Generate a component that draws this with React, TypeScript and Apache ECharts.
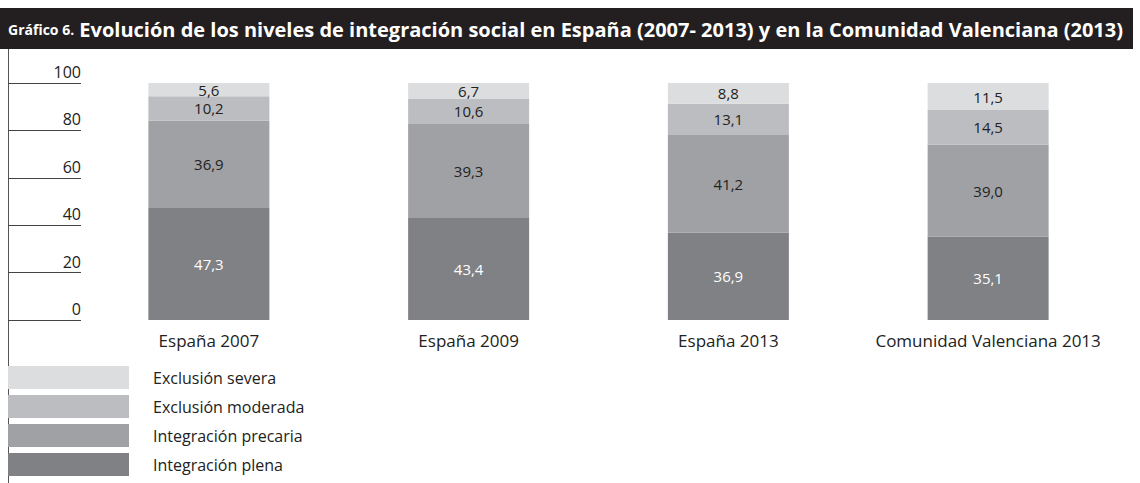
import React, { useEffect, useRef } from "react";
import * as echarts from "echarts";

const categories = ["España 2007", "España 2009", "España 2013", "Comunidad Valenciana 2013"];
const plena = [47.3, 43.4, 36.9, 35.1];
const precaria = [36.9, 39.3, 41.2, 39.0];
const moderada = [10.2, 10.6, 13.1, 14.5];
const severa = [5.6, 6.7, 8.8, 11.5];
const seriesNames = ["Integración plena", "Integración precaria", "Exclusión moderada", "Exclusión severa"];
const legendOrder = ["Exclusión severa", "Exclusión moderada", "Integración precaria", "Integración plena"];
const colors = ["#808185", "#a0a1a5", "#bcbdc0", "#dcdddf"];
const titleLead = "Gráfico 6.";
const titleRest = " Evolución de los niveles de integración social en España (2007- 2013) y en la Comunidad Valenciana (2013)";

const FONT = "'Open Sans', 'Noto Sans', sans-serif";

export default function App() {
  const ref = useRef<HTMLDivElement>(null);
  useEffect(() => {
    if (!ref.current) return;
    const chart = echarts.init(ref.current, undefined, { renderer: "svg" });
    const datasets = [plena, precaria, moderada, severa];
    chart.setOption({
      animation: false,
      textStyle: { fontFamily: FONT },
      grid: [
        { left: 79, right: 22, top: 83, height: 237 },
        { left: 8, width: 73, top: 83, height: 237 },
      ],
      xAxis: [
        {
          type: "category",
          gridIndex: 0,
          data: categories,
          axisLine: { show: false },
          axisTick: { show: false },
          axisLabel: { color: "#222", fontSize: 17, margin: 12, interval: 0, fontFamily: FONT },
        },
        { type: "value", gridIndex: 1, show: false },
      ],
      yAxis: [
        { type: "value", gridIndex: 0, min: 0, max: 100, show: false },
        {
          type: "value",
          gridIndex: 1,
          min: 0,
          max: 100,
          interval: 20,
          position: "right",
          axisLine: { show: false },
          axisTick: { show: false },
          splitLine: { show: true, lineStyle: { color: "#444", width: 1 } },
          axisLabel: {
            inside: true,
            color: "#222",
            fontSize: 16,
            verticalAlign: "bottom",
            padding: [0, 0, 3, 0],
            margin: 0,
            fontFamily: FONT,
          },
        },
      ],
      legend: {
        orient: "vertical",
        left: 8,
        top: 366,
        padding: 0,
        itemWidth: 121,
        itemHeight: 23,
        itemGap: 6,
        icon: "rect",
        data: legendOrder,
        textStyle: { color: "#222", fontSize: 16, padding: [0, 0, 0, 19], fontFamily: FONT },
        selectedMode: false,
      },
      graphic: [
        { type: "rect", shape: { x: 0, y: 8, width: 1133, height: 41 }, style: { fill: "#231f20" } },
        {
          type: "text",
          x: 8,
          y: 29,
          style: {
            text: `{a|${titleLead}}{b|${titleRest}}`,
            verticalAlign: "middle",
            rich: {
              a: { fill: "#fff", fontSize: 14, fontWeight: "bold", fontFamily: FONT },
              b: { fill: "#fff", fontSize: 20, fontWeight: "bold", fontFamily: FONT },
            },
          },
        },
        { type: "line", shape: { x1: 8.5, y1: 49, x2: 8.5, y2: 483 }, style: { stroke: "#555", lineWidth: 1 } },
      ],
      series: datasets.map((d, i) => ({
        name: seriesNames[i],
        type: "bar",
        stack: "total",
        xAxisIndex: 0,
        yAxisIndex: 0,
        barWidth: 121,
        data: d,
        itemStyle: { color: colors[i] },
        label: {
          show: true,
          position: "inside",
          color: i === 0 ? "#fff" : "#222",
          fontSize: 15,
          lineHeight: 15,
          fontFamily: FONT,
          formatter: (p: any) => Number(p.value).toFixed(1).replace(".", ","),
        },
      })),
    });
    return () => chart.dispose();
  }, []);
  return (
    <div
      ref={ref}
      style={{ position: "fixed", left: 0, top: 0, width: 1140, height: 483, background: "#fff" }}
    />
  );
}
